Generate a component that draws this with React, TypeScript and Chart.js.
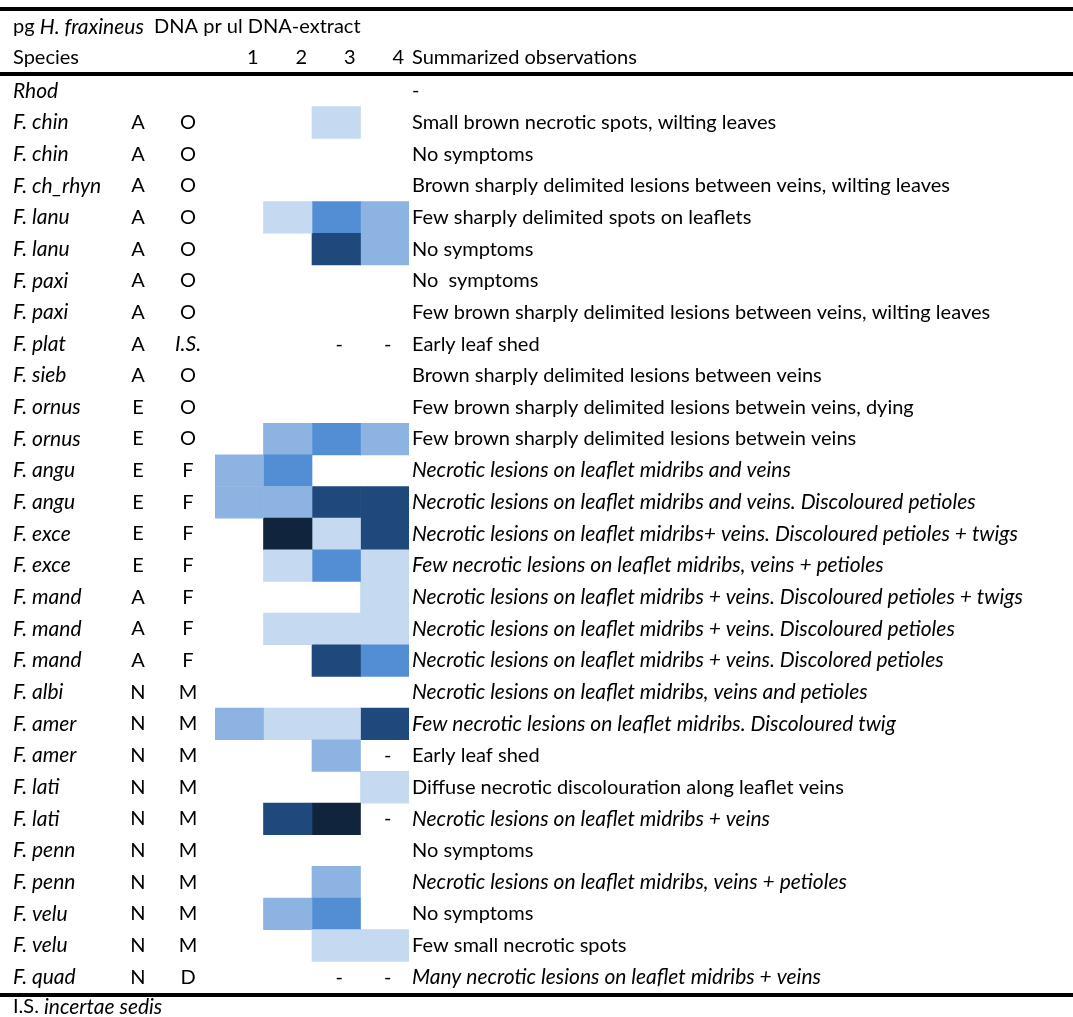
import React, { useEffect, useRef } from "react";
import { Chart, registerables } from "chart.js";

Chart.register(...registerables);

// ---------- data ----------
const SPECIES = [
  "Rhod", "F. chin", "F. chin", "F. ch_rhyn", "F. lanu", "F. lanu", "F. paxi", "F. paxi",
  "F. plat", "F. sieb", "F. ornus", "F. ornus", "F. angu", "F. angu", "F. exce", "F. exce",
  "F. mand", "F. mand", "F. mand", "F. albi", "F. amer", "F. amer", "F. lati", "F. lati",
  "F. penn", "F. penn", "F. velu", "F. velu", "F. quad",
];
const REGION = [
  "", "A", "A", "A", "A", "A", "A", "A", "A", "A", "E", "E", "E", "E", "E", "E",
  "A", "A", "A", "N", "N", "N", "N", "N", "N", "N", "N", "N", "N",
];
const SECTION = [
  "", "O", "O", "O", "O", "O", "O", "O", "I.S.", "O", "O", "O", "F", "F", "F", "F",
  "F", "F", "F", "M", "M", "M", "M", "M", "M", "M", "M", "M", "D",
];
const OBSERVATIONS = [
  "-",
  "Small brown necrotic spots, wilting leaves",
  "No symptoms",
  "Brown sharply delimited lesions between veins, wilting leaves",
  "Few sharply delimited spots on leaflets",
  "No symptoms",
  "No  symptoms",
  "Few brown sharply delimited lesions between veins, wilting leaves",
  "Early leaf shed",
  "Brown sharply delimited lesions between veins",
  "Few brown sharply delimited lesions betwein veins, dying",
  "Few brown sharply delimited lesions betwein veins",
  "Necrotic lesions on leaflet midribs and veins",
  "Necrotic lesions on leaflet midribs and veins. Discoloured petioles",
  "Necrotic lesions on leaflet midribs+ veins. Discoloured petioles + twigs",
  "Few necrotic lesions on leaflet midribs, veins + petioles",
  "Necrotic lesions on leaflet midribs + veins. Discoloured petioles + twigs",
  "Necrotic lesions on leaflet midribs + veins. Discoloured petioles",
  "Necrotic lesions on leaflet midribs + veins. Discolored petioles",
  "Necrotic lesions on leaflet midribs, veins and petioles",
  "Few necrotic lesions on leaflet midribs. Discoloured twig",
  "Early leaf shed",
  "Diffuse necrotic discolouration along leaflet veins",
  "Necrotic lesions on leaflet midribs + veins",
  "No symptoms",
  "Necrotic lesions on leaflet midribs, veins + petioles",
  "No symptoms",
  "Few small necrotic spots",
  "Many necrotic lesions on leaflet midribs + veins",
];
// 1 = observation written in italics
const OBS_ITALIC = [
  0, 0, 0, 0, 0, 0, 0, 0, 0, 0, 0, 0, 1, 1, 1, 1,
  1, 1, 1, 1, 1, 0, 0, 1, 0, 1, 0, 0, 1,
];
const COLUMN_LABELS = ["1", "2", "3", "4"];
// DNA level class per column (null = empty, "-" = not measured)
type Cell = number | null | "-";
const COL1: Cell[] = [
  null, null, null, null, null, null, null, null, null, null, null, null, 2, 2, null, null,
  null, null, null, null, 2, null, null, null, null, null, null, null, null,
];
const COL2: Cell[] = [
  null, null, null, null, 1, null, null, null, null, null, null, 2, 3, 2, 5, 1,
  null, 1, null, null, 1, null, null, 4, null, null, 2, null, null,
];
const COL3: Cell[] = [
  null, 1, null, null, 3, 4, null, null, "-", null, null, 3, null, 4, 1, 3,
  null, 1, 4, null, 1, 2, null, 5, null, 2, 3, 1, "-",
];
const COL4: Cell[] = [
  null, null, null, null, 2, 2, null, null, "-", null, null, 2, null, 4, 4, 1,
  1, 1, 3, null, 4, "-", 1, "-", null, null, null, 1, "-",
];
const COLUMNS = [COL1, COL2, COL3, COL4];

// ---------- styles ----------
const PALETTE = ["#c5d9f1", "#8db3e2", "#538ed5", "#1f497d", "#10243e"];
const FONT = "Lato, 'Open Sans', sans-serif";
const FS = 20;
const FS_IT = 21;
const W = 1073;
const H = 1017;

export default function App() {
  const ref = useRef<HTMLCanvasElement | null>(null);

  useEffect(() => {
    const canvas = ref.current;
    if (!canvas) return;

    const tablePlugin = {
      id: "tableText",
      afterDraw(chart: any) {
        const ctx = chart.ctx as CanvasRenderingContext2D;
        const xs = chart.scales.x;
        const ys = chart.scales.y;
        ctx.save();
        ctx.fillStyle = "#000";
        // rules
        ctx.fillRect(0, 7, W, 4);
        ctx.fillRect(0, 72, W, 4);
        ctx.fillRect(0, 993, W, 4);

        ctx.textBaseline = "middle";
        const font = (italic: boolean) =>
          italic ? `italic ${FS_IT}px ${FONT}` : `${FS}px ${FONT}`;

        // title line
        let x = 13;
        const titleParts: [string, boolean][] = [
          ["pg ", false],
          ["H. fraxineus", true],
          ["  DNA pr ul DNA-extract", false],
        ];
        ctx.textAlign = "left";
        for (const [t, it] of titleParts) {
          ctx.font = font(it);
          ctx.fillText(t, x, 27);
          x += ctx.measureText(t).width;
        }
        // header row
        ctx.font = font(false);
        ctx.fillText("Species", 13, 58);
        ctx.textAlign = "right";
        COLUMN_LABELS.forEach((lab, i) => {
          ctx.fillText(lab, xs.getPixelForValue(i + 1.5) - 5, 58);
        });
        ctx.textAlign = "left";
        ctx.fillText("Summarized observations", 412, 58);

        // rows
        SPECIES.forEach((sp, i) => {
          const y = ys.getPixelForValue(i);
          ctx.textAlign = "left";
          ctx.font = font(true);
          ctx.fillText(sp, 13, y);
          ctx.textAlign = "center";
          ctx.font = font(false);
          if (REGION[i]) ctx.fillText(REGION[i], 138, y);
          if (SECTION[i]) {
            ctx.font = font(SECTION[i] === "I.S.");
            ctx.fillText(SECTION[i], 188, y);
          }
          ctx.textAlign = "left";
          ctx.font = font(OBS_ITALIC[i] === 1);
          ctx.fillText(OBSERVATIONS[i], 412, y);
          // dashes in cells
          ctx.font = font(false);
          ctx.textAlign = "center";
          COLUMNS.forEach((col, c) => {
            if (col[i] === "-") ctx.fillText("-", xs.getPixelForValue(c + 1) + 3, y);
          });
        });

        // footnote
        ctx.textAlign = "left";
        x = 13;
        const foot: [string, boolean][] = [["I.S. ", false], ["incertae sedis", true]];
        for (const [t, it] of foot) {
          ctx.font = font(it);
          ctx.fillText(t, x, 1007);
          x += ctx.measureText(t).width;
        }
        ctx.restore();
      },
    };

    const datasets = COLUMNS.map((col, c) => ({
      label: COLUMN_LABELS[c],
      data: col.map((v) => (typeof v === "number" ? [c + 0.5, c + 1.5] : null)),
      backgroundColor: col.map((v) => (typeof v === "number" ? PALETTE[v - 1] : "rgba(0,0,0,0)")),
      borderWidth: 0,
      barPercentage: 1,
      categoryPercentage: 1,
      grouped: false,
    }));

    const chart = new Chart(canvas, {
      type: "bar",
      data: { labels: SPECIES, datasets: datasets as any },
      options: {
        indexAxis: "y",
        responsive: false,
        animation: false,
        layout: { padding: { left: 215, right: W - 409, top: 75, bottom: H - 993 } },
        scales: {
          x: { type: "linear", min: 0.5, max: 4.5, display: false },
          y: { type: "category", display: false, offset: true },
        },
        plugins: { legend: { display: false }, tooltip: { enabled: false } },
      },
      plugins: [tablePlugin],
    });
    return () => chart.destroy();
  }, []);

  return (
    <div style={{ position: "absolute", left: 0, top: 0, width: W, height: H, background: "#fff" }}>
      <canvas ref={ref} width={W} height={H} style={{ width: W, height: H }} />
    </div>
  );
}
